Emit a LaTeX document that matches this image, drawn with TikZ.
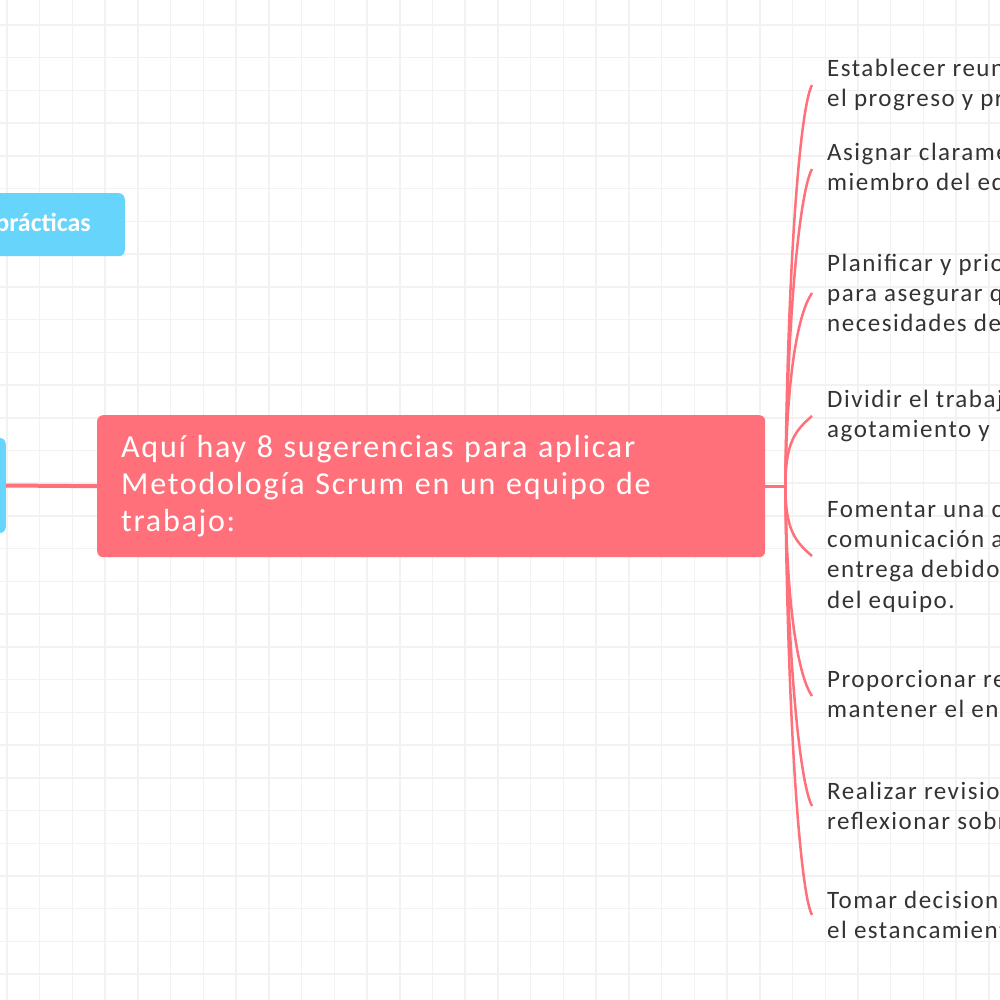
\documentclass[tikz,border=0pt]{standalone}
\usepackage{fontspec}
\setmainfont{Carlito}
\newfontfamily\itemfont{Carlito}[LetterSpace=6]
\newfontfamily\topicfont{Carlito}[LetterSpace=5.5]
\usetikzlibrary{positioning}
\definecolor{scrumred}{RGB}{255,112,123}
\definecolor{scrumblue}{RGB}{102,212,251}
\definecolor{itemtext}{RGB}{51,51,51}
\definecolor{gridgray}{RGB}{242,242,242}

\begin{document}
\begin{tikzpicture}[
        x=1pt, y=-1pt,
        % boxes of the map
        rootbox/.style={fill=scrumred, text=white, rounded corners=6pt, align=left,
            inner xsep=24pt, font=\topicfont\fontsize{32}{37}\selectfont},
        bluebox/.style={fill=scrumblue, text=white, rounded corners=6pt,
            font=\fontsize{26}{30}\selectfont\bfseries},
        item/.style={text=itemtext, align=left, anchor=west, inner xsep=15pt,
            font=\itemfont\fontsize{25}{30.3}\selectfont},
        % connectors
        branch/.style={draw=scrumred, line width=2.5pt},
        gridline/.style={draw=gridgray, line width=1.5pt}
    ]
    \useasboundingbox (0,0) rectangle (1000,1000);
    \clip (0,0) rectangle (1000,1000);
    \fill[white] (0,0) rectangle (1000,1000);
    % background grid
    \foreach \k in {0,...,30} {
        \draw[gridline] (7+\k*32.73,0) -- (7+\k*32.73,1000);
        \draw[gridline] (0,25+\k*32.73) -- (1000,25+\k*32.73);
    }

    % left side, cut by the page edge
    \node[bluebox, anchor=north east, text width=120pt, align=right,
        inner xsep=34pt, minimum height=63pt] (practicas) at (125,193) {prácticas};
    \node[bluebox, anchor=east, minimum width=80pt, minimum height=95pt] (parent) at (6,485.5) {};

    % the central topic
    \node[rootbox, anchor=north west, text width=620pt, minimum height=142pt]
        (root) at (97,415) {Aquí hay 8 sugerencias para aplicar\\
        Metodología Scrum en un equipo de\\
        trabajo:};
    \draw[branch, line width=4pt] (parent.east) -- (root.west);
    \coordinate[right=20pt of root] (fork);
    \draw[branch, line width=3pt] (root.east) -- (fork);

    % the eight suggestions
    \node[item] (s1) at (812,85) {Establecer reuniones\\ el progreso y problemas};
    \node[item] (s2) at (812,169) {Asignar claramente\\ miembro del equipo};
    \node[item] (s3) at (812,293) {Planificar y priorizar\\ para asegurar que\\ necesidades del};
    \node[item] (s4) at (812,416) {Dividir el trabajo\\ agotamiento y};
    \node[item] (s5) at (812,556) {Fomentar una cultura\\ comunicación abierta\\ entrega debido\\ del equipo.};
    \node[item] (s6) at (812,696) {Proporcionar recursos\\ mantener el enfoque};
    \node[item] (s7) at (812,806) {Realizar revisiones\\ reflexionar sobre};
    \node[item] (s8) at (812,915) {Tomar decisiones\\ el estancamiento};

    % branches from the fork
    \draw[branch] (fork) .. controls +(2,-220) and +(-12,22) .. (s1.west);
    \draw[branch] (fork) .. controls +(2,-175) and +(-12,22) .. (s2.west);
    \draw[branch] (fork) .. controls +(1,-110) and +(-14,20) .. (s3.west);
    \draw[branch] (fork) .. controls +(0,-45) and +(-16,14) .. (s4.west);
    \draw[branch] (fork) .. controls +(0,45) and +(-16,-14) .. (s5.west);
    \draw[branch] (fork) .. controls +(1,120) and +(-14,-20) .. (s6.west);
    \draw[branch] (fork) .. controls +(2,175) and +(-12,-22) .. (s7.west);
    \draw[branch] (fork) .. controls +(2,230) and +(-12,-22) .. (s8.west);
\end{tikzpicture}
\end{document}
